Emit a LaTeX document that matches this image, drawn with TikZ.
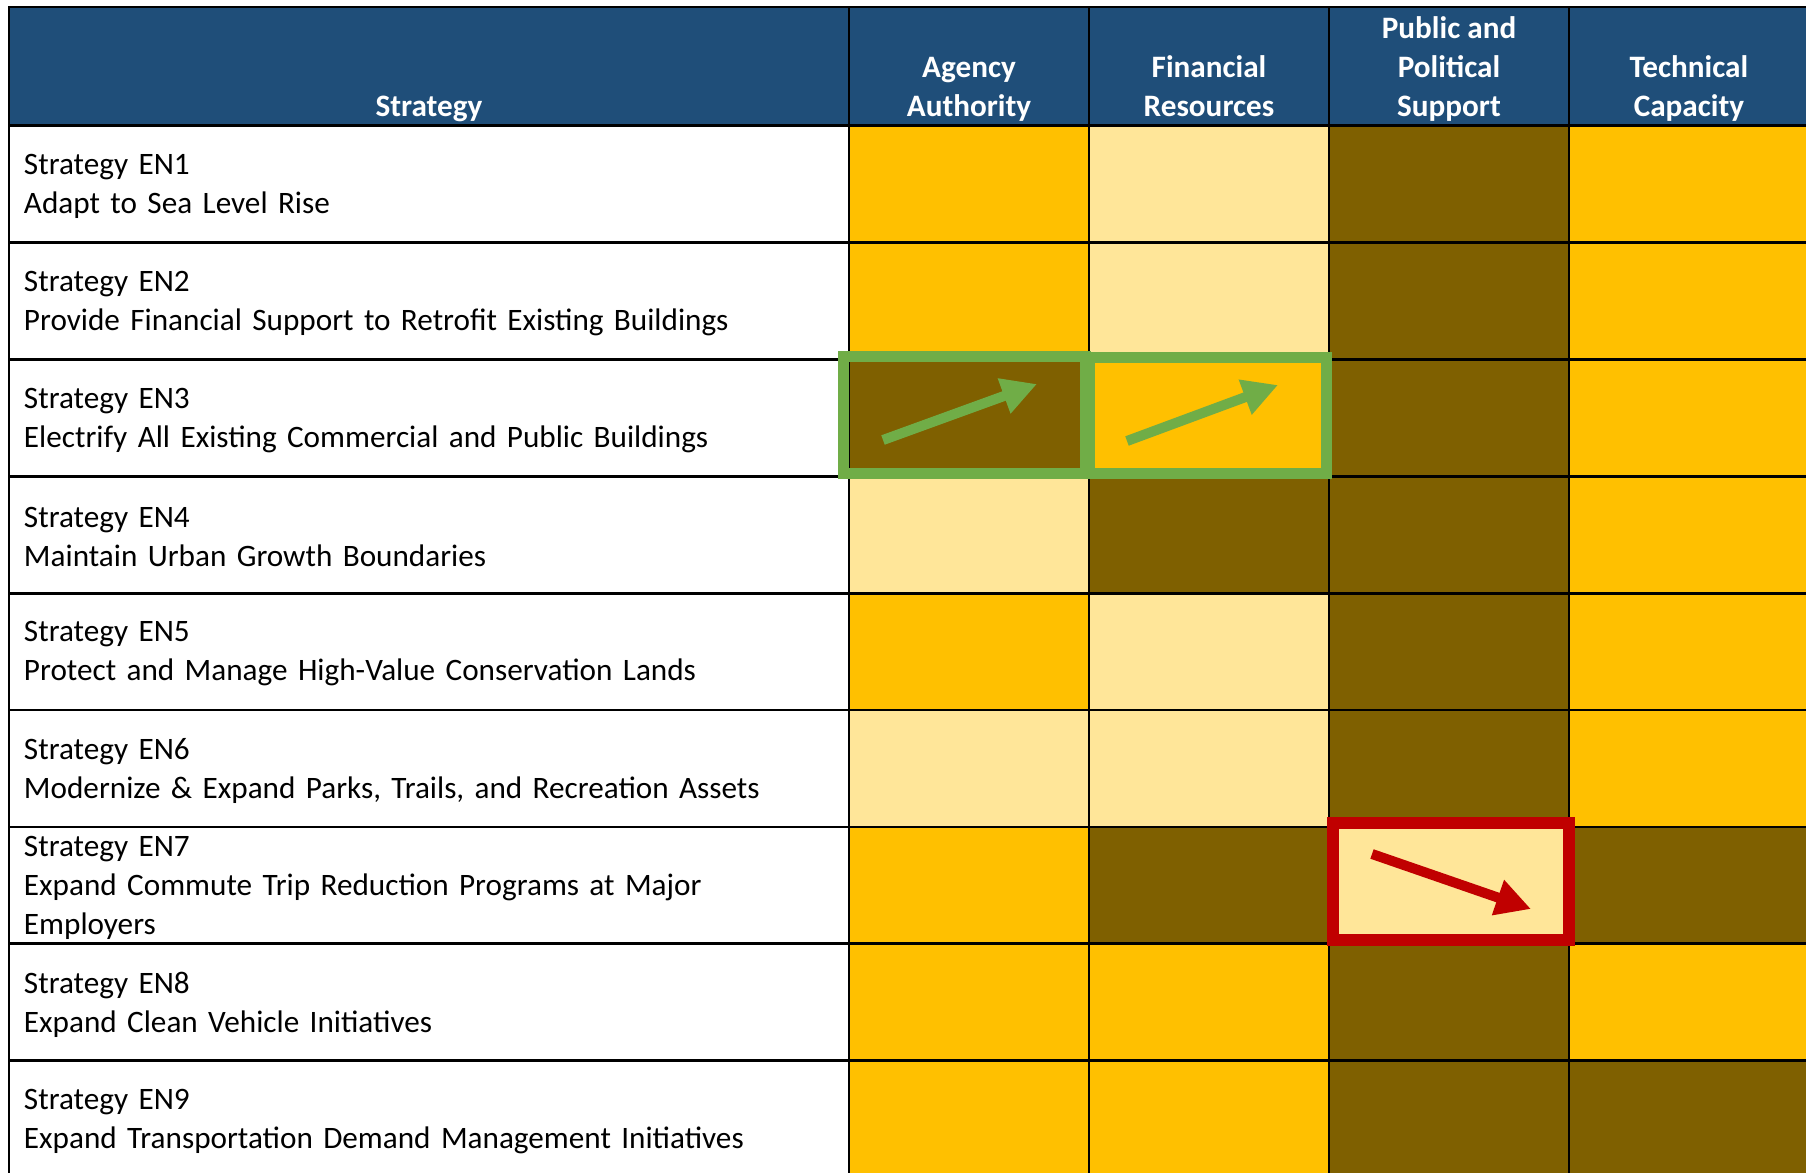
\documentclass[tikz,border=0pt]{standalone}
\usepackage{fontspec}
\setmainfont{Carlito}
\usepackage{xcolor}
\usepackage{tikz}
\usetikzlibrary{arrows.meta,positioning}

\definecolor{hdrblue}{HTML}{1F4E79}
\definecolor{celgold}{HTML}{FFC000}
\definecolor{celpale}{HTML}{FFE699}
\definecolor{celdark}{HTML}{7F6000}
\definecolor{upgreen}{HTML}{70AD47}
\definecolor{downred}{HTML}{C00000}
\newcommand{\tabfont}{\fontsize{15.6}{19.5}\selectfont}

\begin{document}
\begin{tikzpicture}[x=0.5pt, y=-0.5pt]
    \tikzstyle{hdr} = [rectangle, fill=hdrblue, inner sep=0pt, minimum height=59.25pt]
    \tikzstyle{hdrtext} = [text=white, font=\tabfont\bfseries, align=center, inner sep=0pt, text depth=4pt]
    \tikzstyle{strat} = [rectangle, font=\tabfont, inner xsep=7.5pt, inner ysep=0pt, text width=405pt, align=left, minimum height=58.45pt]
    \tikzstyle{cell} = [rectangle, inner sep=0pt, minimum width=120pt, minimum height=58.45pt]
    \tikzstyle{gridline} = [draw=black, line width=1pt]
    \tikzstyle{hilite} = [line width=5.5pt]
    \tikzstyle{trend} = [line width=5pt, -{Triangle[length=17.5pt, width=17.5pt]}]

    \useasboundingbox (0,0) rectangle (1806,1173);
    \clip (0,0) rectangle (1806,1173);

    % Header row
    \node [hdr, minimum width=420pt] (hs) at (429,66.25) {};
    \foreach \h [count=\i from 0] in {ha,hf,hp,ht}
        \node [hdr, minimum width=120pt] (\h) at ({969+240*\i},66.25) {};
    \node [hdrtext, above=0.3pt of hs.south] (ths) {Strategy};
    \node [hdrtext, above=0.3pt of ha.south] (tha) {Agency\\Authority};
    \node [hdrtext, above=0.3pt of hf.south] (thf) {Financial\\Resources};
    \node [hdrtext, above=0.3pt of hp.south] (thp) {Public and\\Political\\Support};
    \node [hdrtext, above=0.3pt of ht.south] (tht) {Technical\\Capacity};

    % Strategy column
    \foreach \r/\txt in {1/{Strategy EN1\\Adapt to Sea Level Rise},
                         2/{Strategy EN2\\Provide Financial Support to Retrofit Existing Buildings},
                         3/{Strategy EN3\\Electrify All Existing Commercial and Public Buildings},
                         4/{Strategy EN4\\Maintain Urban Growth Boundaries},
                         5/{Strategy EN5\\Protect and Manage High-Value Conservation Lands},
                         6/{Strategy EN6\\Modernize \& Expand Parks, Trails, and Recreation Assets},
                         7/{Strategy EN7\\Expand Commute Trip Reduction Programs at Major\\Employers},
                         8/{Strategy EN8\\Expand Clean Vehicle Initiatives},
                         9/{Strategy EN9\\Expand Transportation Demand Management Initiatives}}
        \node [strat, yshift=-1.2pt] (s\r) at (429,{183.95+116.9*(\r-1)}) {\txt};

    % Rating cells
    \foreach \r/\a/\b/\c/\d in {1/celgold/celpale/celdark/celgold, 2/celgold/celpale/celdark/celgold,
                                3/celdark/celgold/celdark/celgold, 4/celpale/celdark/celdark/celgold,
                                5/celgold/celpale/celdark/celgold, 6/celpale/celpale/celdark/celgold,
                                7/celgold/celdark/celpale/celdark, 8/celgold/celgold/celdark/celgold,
                                9/celgold/celgold/celdark/celdark}
        \foreach \fillc [count=\i from 0] in {\a,\b,\c,\d}
            \node [cell, fill=\fillc] (c\r-\i) at ({969+240*\i},{183.95+116.9*(\r-1)}) {};

    % Grid lines
    \foreach \h in {hs,ha,hf,hp,ht}
        \draw [gridline] (\h.north west) rectangle (\h.south east);
    \foreach \r in {1,...,9} {
        \draw [gridline] (s\r.west |- c\r-0.north) rectangle (c\r-0.south west);
        \foreach \i in {0,...,3}
            \draw [gridline] (c\r-\i.north west) rectangle (c\r-\i.south east);
    }

    % Highlights
    \draw [hilite, upgreen] (843.5,356) rectangle (1085.5,473.5);
    \draw [hilite, upgreen] (1089.5,357) rectangle (1326,473.5);
    \draw [hilite, downred, line width=6pt] (1333,823) rectangle (1569,940);

    % Trend arrows
    \coordinate (g1s) at (883,440);   \coordinate (g1e) at (1037,384);
    \coordinate (g2s) at (1127,441);  \coordinate (g2e) at (1278,385);
    \coordinate (r1s) at (1372,854);  \coordinate (r1e) at (1531,909);
    \draw [trend, upgreen] (g1s) -- (g1e);
    \draw [trend, upgreen] (g2s) -- (g2e);
    \draw [trend, downred] (r1s) -- (r1e);
\end{tikzpicture}
\end{document}
